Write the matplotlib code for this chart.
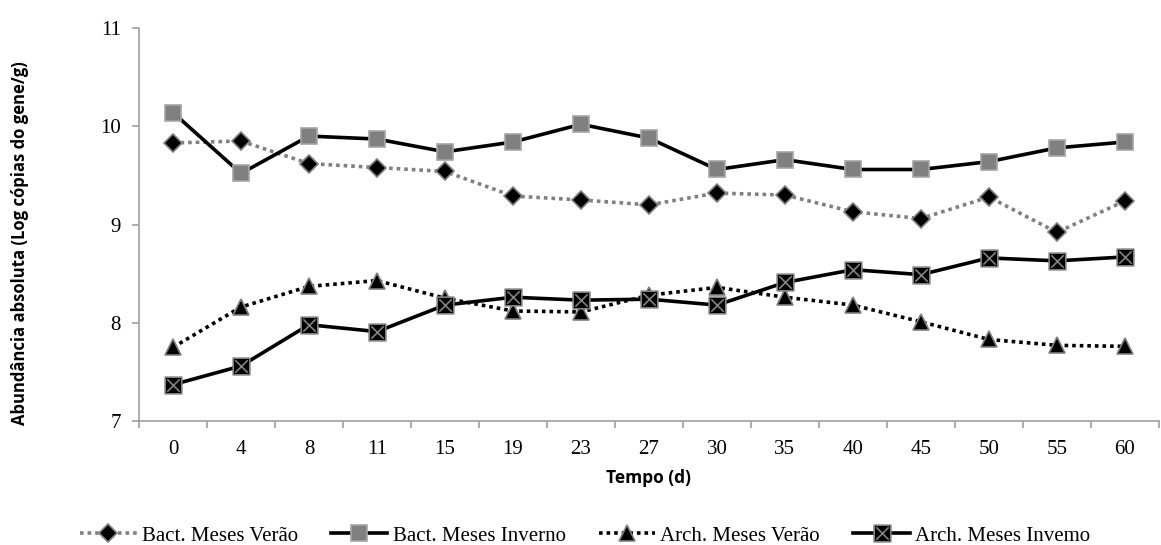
import numpy as np
import matplotlib.pyplot as plt
from matplotlib.path import Path

# dias de amostragem (eixo categórico)
tempo = ["0", "4", "8", "11", "15", "19", "23", "27", "30", "35", "40", "45", "50", "55", "60"]

bact_verao = [9.83, 9.85, 9.62, 9.58, 9.54, 9.29, 9.25, 9.20, 9.32, 9.30, 9.13, 9.06, 9.28, 8.92, 9.24]
bact_inverno = [10.14, 9.52, 9.90, 9.87, 9.74, 9.84, 10.02, 9.88, 9.56, 9.66, 9.56, 9.56, 9.64, 9.78, 9.84]
arch_verao = [7.75, 8.16, 8.37, 8.43, 8.25, 8.12, 8.11, 8.28, 8.36, 8.26, 8.18, 8.01, 7.83, 7.77, 7.76]
arch_inverno = [7.37, 7.56, 7.98, 7.91, 8.18, 8.26, 8.23, 8.24, 8.18, 8.41, 8.54, 8.49, 8.66, 8.63, 8.67]

# quadrado com um X dentro (marcador estilo Excel)
verts = [(-1, -1), (1, -1), (1, 1), (-1, 1), (-1, -1),
         (-0.75, -0.75), (0.75, 0.75), (-0.75, 0.75), (0.75, -0.75)]
codes = [Path.MOVETO, Path.LINETO, Path.LINETO, Path.LINETO, Path.CLOSEPOLY,
         Path.MOVETO, Path.LINETO, Path.MOVETO, Path.LINETO]
quadrado_x = Path(verts, codes)

fig = plt.figure(figsize=(11.61, 5.45), dpi=100)
ax = fig.add_axes([0.1197, 0.2275, 0.8785, 0.7211])

x = np.arange(len(tempo))
cinza = '#808080'
pontilhado = (0, (1, 1.1))

ax.plot(x, bact_verao, color=cinza, linestyle=pontilhado, linewidth=2.6,
        marker='D', markersize=9, markerfacecolor='black', markeredgecolor=cinza,
        markeredgewidth=1.2, label='Bact. Meses Verão')
ax.plot(x, bact_inverno, color='black', linestyle='-', linewidth=2.6,
        marker='s', markersize=11, markerfacecolor=cinza, markeredgecolor='#a6a6a6',
        markeredgewidth=1.2, label='Bact. Meses Inverno')
ax.plot(x, arch_verao, color='black', linestyle=pontilhado, linewidth=2.6,
        marker='^', markersize=11, markerfacecolor='black', markeredgecolor=cinza,
        markeredgewidth=1.2, label='Arch. Meses Verão')
ax.plot(x, arch_inverno, color='black', linestyle='-', linewidth=2.6,
        marker=quadrado_x, markersize=12, markerfacecolor='black', markeredgecolor=cinza,
        markeredgewidth=1.2, label='Arch. Meses Invemo')

ax.set_xlim(-0.5, len(tempo) - 0.5)
ax.set_ylim(7, 11)
ax.set_yticks([7, 8, 9, 10, 11])
ax.set_xticks(x)
ax.set_xticklabels(tempo)
ax.set_xticks(np.arange(-0.5, len(tempo)), minor=True)

for s in ['top', 'right']:
    ax.spines[s].set_visible(False)
for s in ['left', 'bottom']:
    ax.spines[s].set_color('#a0a0a0')
    ax.spines[s].set_linewidth(1.2)

ax.tick_params(axis='x', which='major', length=0, pad=14)
ax.tick_params(axis='x', which='minor', length=5, color='#a0a0a0', width=1.2)
ax.tick_params(axis='y', length=5, color='#a0a0a0', width=1.2, pad=8)
for lbl in ax.get_xticklabels() + ax.get_yticklabels():
    lbl.set_family('Liberation Serif')
    lbl.set_fontsize(15)

ax.set_xlabel('Tempo (d)', family='Open Sans', fontweight='bold', fontsize=12.5, labelpad=7)
ax.set_ylabel('Abundância absoluta (Log cópias do gene/g)', family='Open Sans',
              fontweight='bold', fontsize=12)
ax.yaxis.set_label_coords(-0.108, 0.452)

fig.legend(loc='center', bbox_to_anchor=(0.504, 0.017), ncol=4, frameon=False,
           prop={'family': 'Liberation Serif', 'size': 15}, handlelength=2.7,
           handletextpad=0.25, columnspacing=1.6, numpoints=1, borderpad=0)

fig.savefig('out.png', dpi=100)
